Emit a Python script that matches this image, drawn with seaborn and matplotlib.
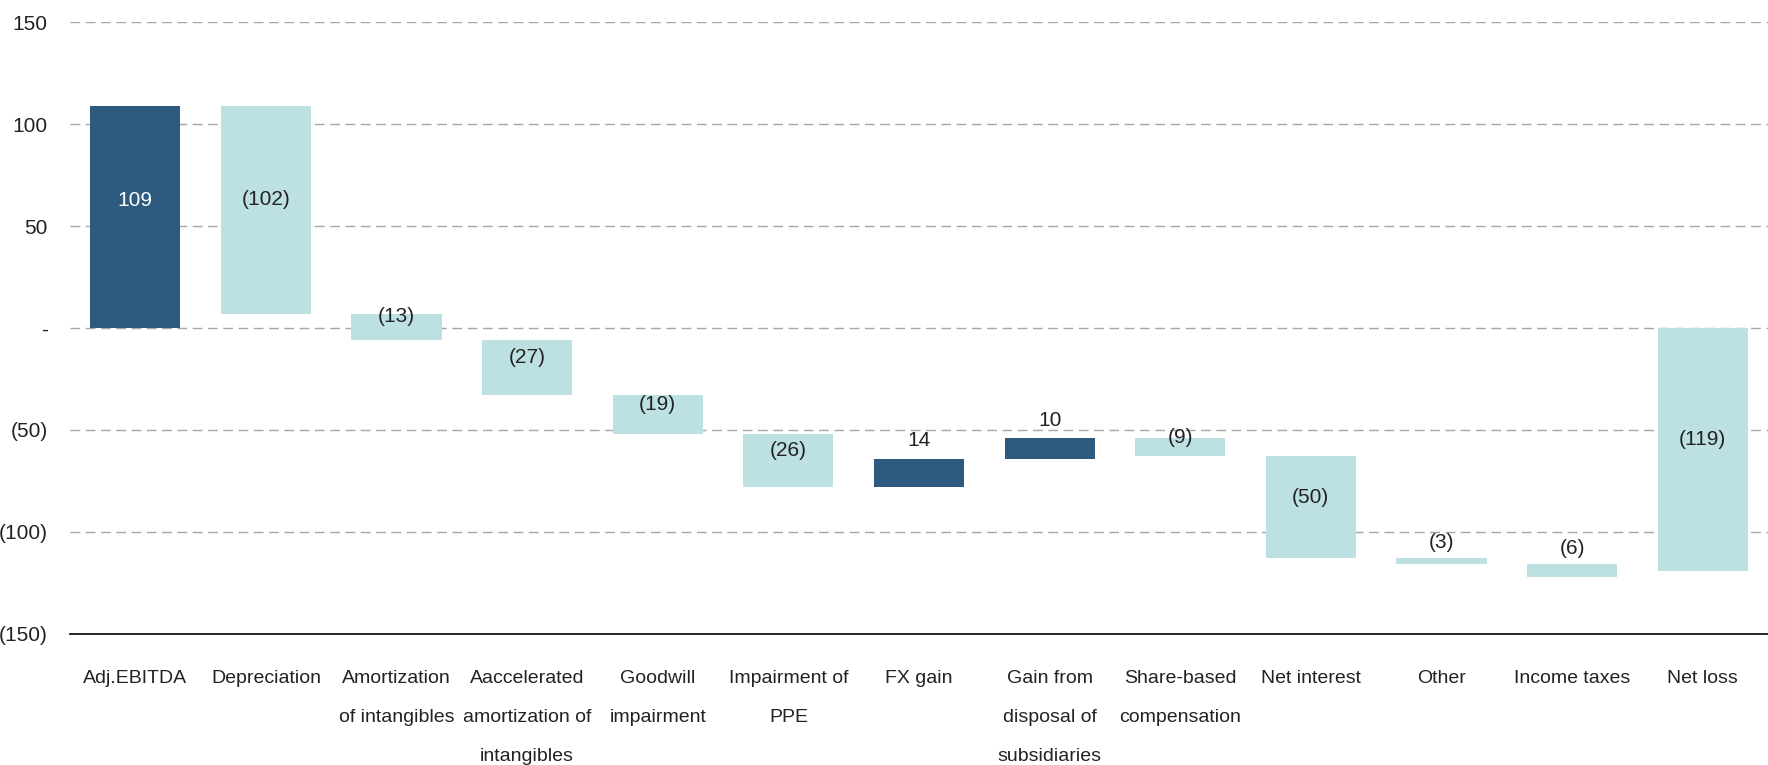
import matplotlib
matplotlib.use("Agg")
import matplotlib.pyplot as plt
import seaborn as sns
import numpy as np
import pandas as pd

# Waterfall: Adj. EBITDA to net loss
categories = ["Adj.EBITDA", "Depreciation", "Amortization\nof intangibles",
              "Aaccelerated\namortization of\nintangibles", "Goodwill\nimpairment",
              "Impairment of\nPPE", "FX gain", "Gain from\ndisposal of\nsubsidiaries",
              "Share-based\ncompensation", "Net interest", "Other", "Income taxes", "Net loss"]
values = [109, -102, -13, -27, -19, -26, 14, 10, -9, -50, -3, -6, -119]
kinds = ["start", "step", "step", "step", "step", "step", "step", "step",
         "step", "step", "step", "step", "total"]
yticks = [150, 100, 50, 0, -50, -100, -150]

dark = "#2E5A80"
light = "#BDE0E2"

# bottoms of the floating bars
bottoms = []
running = 0
for v, k in zip(values, kinds):
    if k == "step":
        bottoms.append(running)
        running += v
    else:
        bottoms.append(0)
        running = v

df = pd.DataFrame({"cat": categories, "val": values, "bottom": bottoms, "kind": kinds})

sns.set_style("white")
plt.rcParams["font.family"] = ["Liberation Sans", "DejaVu Sans"]

fig = plt.figure(figsize=(17.68, 7.65), dpi=100)
ax = fig.add_axes([0.0396, 0.1716, 0.9604, 0.799])

sns.barplot(data=df, x="cat", y="val", bottom=df["bottom"].to_numpy(), color=light,
            width=0.69, errorbar=None, saturation=1, ax=ax, zorder=3)

for patch, v, k in zip(ax.patches, values, kinds):
    patch.set_facecolor(dark if (k == "start" or (k == "step" and v > 0)) else light)
    patch.set_edgecolor("none")

def fmt(v):
    if v == 0:
        return "-"
    if v < 0:
        return f"({abs(v)})"
    return f"{v}"

# value labels
txt = dict(ha="center", fontsize=15, zorder=4)
for i, (v, b, k) in enumerate(zip(values, bottoms, kinds)):
    top = max(b, b + v)
    mid = b + v / 2
    if k == "start":
        ax.text(i, mid + 8, fmt(v), va="center", color="white", **txt)
    elif v > 0:
        ax.text(i, top + 4, fmt(v), va="bottom", color="#222222", **txt)
    elif abs(v) < 8:
        ax.text(i, top + 8, fmt(v), va="center", color="#222222", **txt)
    else:
        ax.text(i, mid + 5, fmt(v), va="center", color="#222222", **txt)

ax.set_ylim(-150, 150)
ax.set_xlim(-0.5, len(categories) - 0.5)
ax.set_yticks(yticks)
ax.set_yticklabels([fmt(t) for t in yticks], fontsize=15, color="#222222")
ax.tick_params(axis="y", length=0, pad=16)
ax.set_xticks(range(len(categories)))
ax.set_xticklabels(categories, linespacing=2.7, va="top")
ax.tick_params(axis="x", which="major", length=0, pad=26, labelsize=14, labelcolor="#222222")
ax.set_xticks(np.arange(-0.5, len(categories)), minor=True)
ax.tick_params(axis="x", which="minor", length=8, width=1, color="#777777", direction="out")

ax.yaxis.grid(True, linestyle=(0, (7, 4)), color="#A6A6A6", linewidth=1, zorder=0)
ax.xaxis.grid(False)
ax.set_axisbelow(True)
for s in ["top", "right", "left"]:
    ax.spines[s].set_visible(False)
ax.spines["bottom"].set_color("black")
ax.spines["bottom"].set_linewidth(1.2)
ax.set_xlabel("")
ax.set_ylabel("")

fig.savefig("out.png", dpi=100)
